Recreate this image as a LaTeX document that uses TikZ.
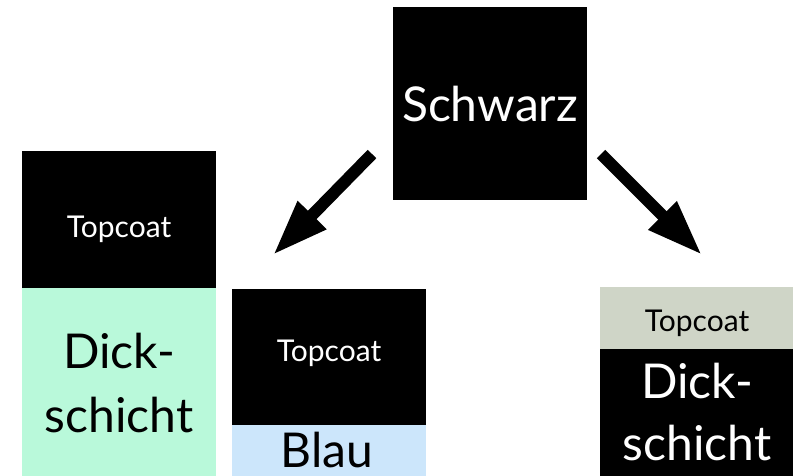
\documentclass[tikz,border=0pt]{standalone}
\usepackage{fontspec}
\setmainfont{Lato}
\usetikzlibrary{arrows.meta}
\definecolor{mint}{HTML}{B9F9DA}
\definecolor{skyb}{HTML}{CCE6FB}
\definecolor{sage}{HTML}{CFD5C7}
\tikzset{
  layer/.style={draw=none, inner sep=0pt, outer sep=0pt, anchor=north west},
  bigtxt/.style={inner sep=0pt, anchor=base, font=\fontsize{48}{58}\selectfont},
  smalltxt/.style={inner sep=0pt, anchor=base, font=\fontsize{30}{36}\selectfont},
  fatarrow/.style={line width=12pt, -{Triangle[length=56pt,width=37pt]}}
}
\begin{document}
\begin{tikzpicture}[x=1pt,y=-1pt]
\useasboundingbox (0,0) rectangle (798,476);
% top box
\node[layer, fill=black, minimum width=194pt, minimum height=193pt] (sbox) at (393,7) {};
\node[bigtxt, text=white] (stxt) at (490,122) {Schwarz};
% left stack
\node[layer, fill=black, minimum width=194pt, minimum height=137pt] (ltop) at (22,151) {};
\node[layer, fill=mint, minimum width=194pt, minimum height=188pt] (lbot) at (22,288) {};
\node[smalltxt, text=white] (ltt) at (119,237) {Topcoat};
\node[bigtxt] (ld1) at (119,368) {Dick-};
\node[bigtxt] (ld2) at (119,432) {schicht};
% middle stack
\node[layer, fill=black, minimum width=194pt, minimum height=136pt] (mtop) at (232,289) {};
\node[layer, fill=skyb, minimum width=194pt, minimum height=51pt] (mbot) at (232,425) {};
\node[smalltxt, text=white] (mtt) at (329,361) {Topcoat};
\node[bigtxt] (mb) at (327,467) {Blau};
% right stack
\node[layer, fill=sage, minimum width=193pt, minimum height=62pt] (rtop) at (600,287) {};
\node[layer, fill=black, minimum width=193pt, minimum height=127pt] (rbot) at (600,349) {};
\node[smalltxt] (rtt) at (697,331) {Topcoat};
\node[bigtxt, text=white] (rd1) at (697,398) {Dick-};
\node[bigtxt, text=white] (rd2) at (697,460) {schicht};
% arrows
\coordinate (la) at (372,154);
\coordinate (lb) at (273,255);
\coordinate (ra) at (601,154);
\coordinate (rb) at (702,255);
\draw[fatarrow] (la) -- (lb);
\draw[fatarrow] (ra) -- (rb);
\end{tikzpicture}
\end{document}
